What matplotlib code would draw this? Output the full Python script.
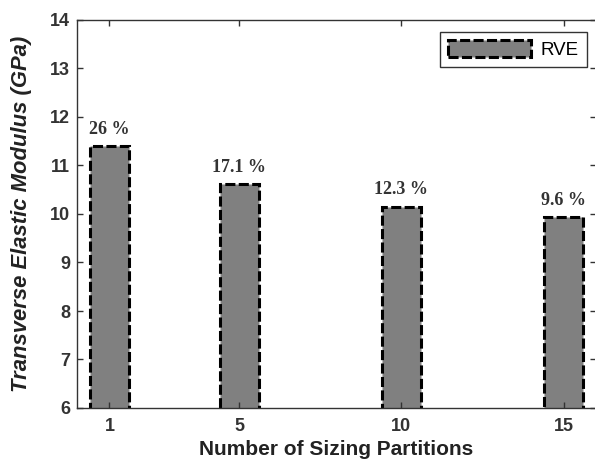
import numpy as np
import matplotlib
matplotlib.use('Agg')
import matplotlib.pyplot as plt

partitions = [1, 5, 10, 15]
modulus = [11.4, 10.62, 10.15, 9.93]
labels = ['26 %', '17.1 %', '12.3 %', '9.6 %']

fig = plt.figure(figsize=(5.95, 4.59), dpi=100)
ax = fig.add_axes([77 / 595, 51 / 459, 519 / 595, 388 / 459])

bars = ax.bar(partitions, modulus, width=1.2, bottom=0, color='#808080',
              edgecolor='black', linewidth=2.2, linestyle=(0, (3.3, 1.1)), label='RVE')

for x, y, t in zip(partitions, modulus, labels):
    ax.annotate(t, (x, y), xytext=(0, 6), textcoords='offset points',
                ha='center', va='bottom', fontsize=13, fontweight='bold',
                family='Liberation Serif', color='#333333')

ax.set_xlim(0, 16)
ax.set_ylim(6, 14)
ax.set_xticks(partitions)
ax.set_yticks(np.arange(6, 15, 1))
ax.tick_params(direction='in', top=True, right=True, length=4, width=1,
               colors='#333333', labelsize=13)
for lbl in ax.get_xticklabels() + ax.get_yticklabels():
    lbl.set_fontweight('bold')
    lbl.set_family('Liberation Sans')
ax.tick_params(axis='x', pad=7)
ax.tick_params(axis='y', pad=5)
for s in ax.spines.values():
    s.set_color('#333333')
    s.set_linewidth(1)

ax.set_xlabel('Number of Sizing Partitions', fontsize=15, fontweight='bold',
              family='Liberation Sans', color='#222222', labelpad=4)
ax.set_ylabel('Transverse Elastic Modulus (GPa)', fontsize=15.8, fontweight='bold',
              style='italic', family='Liberation Sans', color='#222222', labelpad=13)

leg = ax.legend(loc='upper right', bbox_to_anchor=(0.982, 0.97), fancybox=False,
                edgecolor='#333333', framealpha=1, handlelength=4.4, handleheight=1.0,
                handletextpad=0.5, prop={'family': 'Liberation Sans', 'size': 13.5},
                borderpad=0.45, borderaxespad=0)
leg.get_frame().set_linewidth(1)

fig.savefig('out.png', dpi=100)
